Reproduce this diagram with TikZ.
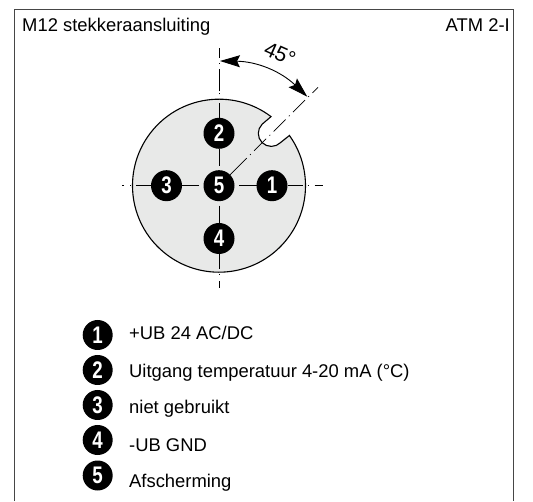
\documentclass[tikz,border=0pt]{standalone}
\usepackage{fontspec}
\setmainfont{Liberation Sans}
\newfontfamily\pinfont[FakeStretch=0.78]{Liberation Sans}
\usetikzlibrary{arrows.meta}
\definecolor{schijf}{RGB}{232,233,232}
\definecolor{kader}{RGB}{70,70,70}
\tikzstyle{pin}=[circle,fill=black,minimum size=31pt,inner sep=0pt,
text=white,font=\pinfont\fontsize{24}{24}\selectfont\bfseries]
\tikzstyle{tekst}=[anchor=base west,inner sep=0pt,text=black,font=\fontsize{18.4}{18.4}\selectfont]
\tikzstyle{as}=[draw=black,line width=0.7pt]
\tikzstyle{asbuiten}=[as,shorten <=15.5pt,dash pattern=on 15pt off 5pt on 1pt off 6pt on 17pt off 5.5pt on 1pt off 3pt]
\tikzstyle{astop}=[as,shorten <=15.5pt,dash pattern=on 15pt off 8.5pt on 1pt off 2pt on 22pt off 5.5pt on 1pt off 5pt on 18pt off 5pt on 1pt off 3pt]
\tikzstyle{asschuin}=[as,shorten <=15.5pt,dash pattern=on 23.6pt off 4.7pt on 1pt off 4.7pt on 17pt off 4.7pt on 1pt off 4.7pt on 17pt off 4.7pt on 1pt off 4.7pt on 17pt off 4.7pt on 1pt off 4.7pt on 17pt off 4.7pt on 1pt off 4.7pt]
\tikzstyle{hoek}=[line width=0.9pt,{Stealth[length=20pt,width=12pt,inset=3pt]}-{Stealth[length=20pt,width=12pt,inset=3pt]}]

\begin{document}
\begin{tikzpicture}[x=1pt,y=1pt]
      \useasboundingbox (0,0) rectangle (533,501);
      % kader
      \draw[kader,line width=1pt] (14.5,0) -- (14.5,491) -- (513.5,491) -- (513.5,0);
      \node[tekst] (titel) at (22,469.3) {M12 stekkeraansluiting};
      \node[tekst,anchor=base east] (type) at (510,469.3) {ATM 2-I};
      % schijf met sleuf
      \draw[fill=schijf,line width=1.1pt] (219,315.3) ++(53:86.5) arc (53:395.5:86.5)
        -- (280.5,358.4) arc (-45:-225:13) -- cycle;
      % pinnen
      \node[pin] (p5) at (219,315.3) {5};
      \node[pin] (p1) at (272,315.3) {1};
      \node[pin] (p2) at (219,367.7) {2};
      \node[pin] (p3) at (166.5,315.3) {3};
      \node[pin] (p4) at (219,262.5) {4};
      \coordinate (e1) at (322.5,315.3);
      \coordinate (e2) at (219,453);
      \coordinate (e3) at (122,315.3);
      \coordinate (e4) at (219,212.5);
      \coordinate (e5) at (318,413.7);
      \coordinate (h1) at (220,440);
      \coordinate (h2) at (307.3,404.3);
      % assen
      \draw[as,shorten <=20pt,shorten >=15.5pt] (p5.center) -- (p1.center);
      \draw[as,shorten <=20pt,shorten >=15.5pt] (p5.center) -- (p2.center);
      \draw[as,shorten <=20pt,shorten >=15.5pt] (p5.center) -- (p3.center);
      \draw[as,shorten <=20pt,shorten >=15.5pt] (p5.center) -- (p4.center);
      \draw[asbuiten] (p1.center) -- (e1);
      \draw[astop] (p2.center) -- (e2);
      \draw[asbuiten] (p3.center) -- (e3);
      \draw[asbuiten] (p4.center) -- (e4);
      \draw[asschuin] (p5.center) -- (e5);
      \draw[hoek] (h1) to[bend left=21.5] (h2);
      \node[text=black,font=\fontsize{21}{21}\selectfont,rotate=-24,inner sep=0pt] (graden) at (280,447) {45°};
      % legenda
      \node[pin,minimum size=30pt] (l1) at (97.7,166) {1};
      \node[pin,minimum size=30pt] (l2) at (97.7,131) {2};
      \node[pin,minimum size=30pt] (l3) at (97.7,96) {3};
      \node[pin,minimum size=30pt] (l4) at (97.7,61) {4};
      \node[pin,minimum size=30pt] (l5) at (97.7,25.5) {5};
      \node[tekst] (t1) at (129,161.7) {+UB 24 AC/DC};
      \node[tekst] (t2) at (129,123.3) {Uitgang temperatuur 4-20 mA (°C)};
      \node[tekst] (t3) at (129,87.7) {niet gebruikt};
      \node[tekst] (t4) at (129,49.7) {-UB GND};
      \node[tekst] (t5) at (129,13.3) {Afscherming};
\end{tikzpicture}
\end{document}
